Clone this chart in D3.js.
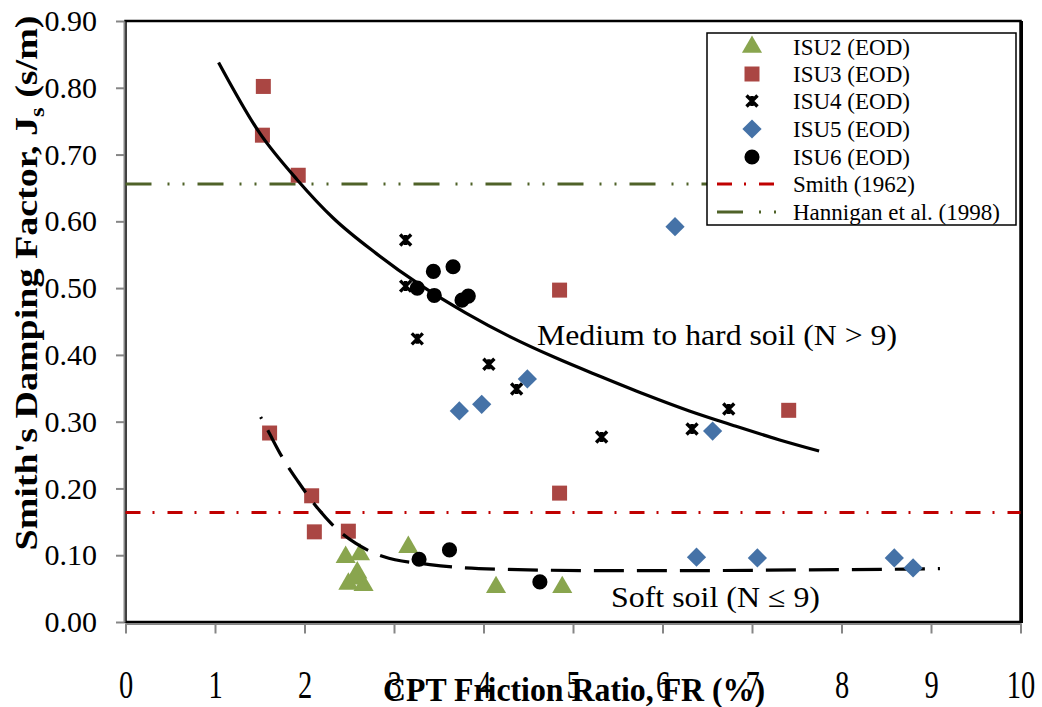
<!DOCTYPE html>
<html><head><meta charset="utf-8">
<script src="https://cdn.jsdelivr.net/npm/d3@7"></script>
<style>body{margin:0;background:#fff}svg{display:block}text{font-family:"Liberation Serif","Times New Roman",serif}</style>
</head><body><svg id="c" width="1042" height="707"></svg>
<script>
// ---- data ----
const xTicks = [0,1,2,3,4,5,6,7,8,9,10];
const yTicks = [0,0.1,0.2,0.3,0.4,0.5,0.6,0.7,0.8,0.9];

const isu2FR = [2.46, 2.62, 2.59, 2.49, 2.66, 2.56, 3.16, 4.14, 4.88];
const isu2J  = [0.097,0.101,0.074,0.057,0.055,0.065,0.112,0.052,0.052];
const isu3FR = [1.54, 1.53, 1.93, 1.61, 2.08, 2.11, 2.49, 4.85, 4.85, 7.41];
const isu3J  = [0.802,0.729,0.669,0.283,0.189,0.135,0.136,0.497,0.193,0.317];
const isu4FR = [3.13, 3.13, 3.26, 4.06, 4.37, 5.32, 6.33, 6.74];
const isu4J  = [0.572,0.503,0.424,0.386,0.349,0.277,0.289,0.319];
const isu5FR = [6.14, 3.73, 3.98, 4.49, 6.56, 6.38, 7.06, 8.59, 8.80];
const isu5J  = [0.592,0.316,0.326,0.364,0.286,0.097,0.096,0.096,0.081];
const isu6FR = [3.44, 3.66, 3.26, 3.45, 3.76, 3.83, 3.28, 3.62, 4.63];
const isu6J  = [0.525,0.532,0.500,0.489,0.482,0.488,0.094,0.108,0.060];

// trend curves
const hardFR = [1.04, 1.50, 1.92, 2.32, 2.80, 3.30, 3.80, 4.30, 4.80, 5.30, 5.80, 6.30, 6.80, 7.30, 7.75];
const hardJ  = [0.838,0.732,0.662,0.605,0.552,0.504,0.463,0.427,0.396,0.368,0.341,0.316,0.294,0.273,0.256];
const softFR = [1.51, 1.59, 1.75, 1.93, 2.12, 2.34, 2.57, 2.88, 3.40, 4.19, 5.30, 6.40, 7.50, 8.60, 9.10];
const softJ  = [0.307,0.287,0.247,0.210,0.175,0.142,0.118,0.098,0.086,0.079,0.077,0.077,0.078,0.079,0.080];

const refFR = [0, 10];
const smithJ = [0.164, 0.164];
const hanniganJ = [0.656, 0.656];

const legendLabels = ["ISU2 (EOD)","ISU3 (EOD)","ISU4 (EOD)","ISU5 (EOD)","ISU6 (EOD)","Smith (1962)","Hannigan et al. (1998)"];

// ---- drawing ----
const svg = d3.select("#c");
const x = d3.scaleLinear().domain([0,10]).range([125.5,1020.5]);
const y = d3.scaleLinear().domain([0,0.9]).range([622,21]);

const C = {green:"#89a54e", red:"#aa4643", blue:"#4572a7", smith:"#c00000", hann:"#4f6228"};

// plot frame
svg.append("rect").attr("x",x(0)).attr("y",y(0.9)).attr("width",x(10)-x(0)).attr("height",y(0)-y(0.9))
  .attr("fill","#fff").attr("stroke","#000").attr("stroke-width",2.5);
svg.append("line").attr("x1",x(10)+1).attr("x2",x(10)+1).attr("y1",y(0.9)).attr("y2",y(0)+1).attr("stroke","#000").attr("stroke-width",3);

// axes
const ax = svg.append("g").attr("transform",`translate(0,${y(0)+1.5})`)
  .call(d3.axisBottom(x).tickValues(xTicks).tickSize(10).tickSizeOuter(0).tickPadding(44).tickFormat(d3.format("d")));
const ay = svg.append("g").attr("transform",`translate(${x(0)-1.5},0)`)
  .call(d3.axisLeft(y).tickValues(yTicks).tickSize(8).tickSizeOuter(0).tickPadding(19).tickFormat(d3.format(".2f")));
[ax,ay].forEach(g=>{
  g.select(".domain").attr("stroke","#868686").attr("stroke-width",2);
  g.selectAll(".tick line").attr("stroke","#868686").attr("stroke-width",2);
  g.selectAll("text").attr("font-family","Liberation Serif").attr("font-size",30).attr("fill","#000");
});
ax.selectAll("text").attr("dy",null).attr("y",0).attr("transform","translate(0,74) scale(0.95,1.35)");

// axis titles
svg.append("text").attr("x",574).attr("y",701).attr("text-anchor","middle")
  .attr("font-weight","bold").attr("font-size",33).attr("textLength",382).attr("lengthAdjust","spacingAndGlyphs")
  .text("CPT Friction Ratio, FR (%)");
const yt = svg.append("text").attr("transform","translate(37,283) rotate(-90)").attr("text-anchor","middle")
  .attr("font-weight","bold").attr("font-size",31).attr("textLength",535).attr("lengthAdjust","spacingAndGlyphs");
yt.append("tspan").text("Smith's Damping Factor, J");
yt.append("tspan").attr("font-size",20).attr("dy",7).text("s");
yt.append("tspan").attr("dy",-7).text(" (s/m)");

// reference lines
const line = d3.line().x(d=>x(d[0])).y(d=>y(d[1]));
svg.append("path").datum(d3.zip(refFR,smithJ)).attr("d",line).attr("fill","none")
  .attr("stroke",C.smith).attr("stroke-width",3).attr("stroke-dasharray","15,12,2,13").attr("stroke-linecap","butt");
svg.append("path").datum(d3.zip(refFR,hanniganJ)).attr("d",line).attr("fill","none")
  .attr("stroke",C.hann).attr("stroke-width",3).attr("stroke-dasharray","26,16,2,13,2,13");

// markers
const sym = (type,size)=>d3.symbol().type(type).size(size)();
const xMark = "M-5.5,-5.5L5.5,5.5M-5.5,5.5L5.5,-5.5M0,-5L0,5";
function pts(fr,j){return d3.zip(fr,j);}
function drawTri(g,data){g.selectAll(null).data(data).join("path").attr("d",sym(d3.symbolTriangle,175))
  .attr("transform",d=>`translate(${x(d[0])},${y(d[1])})`).attr("fill",C.green);}
function drawSq(g,data){g.selectAll(null).data(data).join("path").attr("d",sym(d3.symbolSquare,225))
  .attr("transform",d=>`translate(${x(d[0])},${y(d[1])})`).attr("fill",C.red);}
function drawX(g,data){g.selectAll(null).data(data).join("path").attr("d",xMark)
  .attr("transform",d=>`translate(${x(d[0])},${y(d[1])})`).attr("stroke","#000").attr("stroke-width",3.4).attr("fill","none");}
function drawDia(g,data){g.selectAll(null).data(data).join("path").attr("d",sym(d3.symbolSquare,185))
  .attr("transform",d=>`translate(${x(d[0])},${y(d[1])}) rotate(45)`).attr("fill",C.blue);}
function drawCirc(g,data){g.selectAll(null).data(data).join("path").attr("d",sym(d3.symbolCircle,180))
  .attr("transform",d=>`translate(${x(d[0])},${y(d[1])})`).attr("fill","#000");}

drawTri(svg.append("g"),pts(isu2FR,isu2J));
drawSq(svg.append("g"),pts(isu3FR,isu3J));

// fit curves
const cl = d3.line().x(d=>x(d[0])).y(d=>y(d[1])).curve(d3.curveMonotoneX);
svg.append("path").datum(pts(hardFR,hardJ)).attr("d",cl).attr("fill","none").attr("stroke","#000").attr("stroke-width",3.2);
svg.append("path").datum(pts(softFR,softJ)).attr("d",cl).attr("fill","none").attr("stroke","#000").attr("stroke-width",3.2)
  .attr("stroke-dasharray","30,13").attr("stroke-dashoffset",28);

drawX(svg.append("g"),pts(isu4FR,isu4J));
drawDia(svg.append("g"),pts(isu5FR,isu5J));
drawCirc(svg.append("g"),pts(isu6FR,isu6J));

// annotations
svg.append("text").attr("x",537).attr("y",345).attr("font-size",30).attr("textLength",360).attr("lengthAdjust","spacingAndGlyphs")
  .text("Medium to hard soil (N > 9)");
svg.append("text").attr("x",611).attr("y",607).attr("font-size",30).attr("textLength",209).attr("lengthAdjust","spacingAndGlyphs")
  .text("Soft soil (N \u2264 9)");

// legend
const lg = svg.append("g");
lg.append("rect").attr("x",707).attr("y",33).attr("width",309).attr("height",192).attr("fill","#fff").attr("stroke","#000").attr("stroke-width",1.5);
const rowY = [47,74,101,129,157,184,212];
const lx = 752;
drawTri(lg.append("g"),[[x.invert(lx),y.invert(rowY[0])]]);
drawSq(lg.append("g"),[[x.invert(lx),y.invert(rowY[1])]]);
drawX(lg.append("g"),[[x.invert(lx),y.invert(rowY[2])]]);
drawDia(lg.append("g"),[[x.invert(lx),y.invert(rowY[3])]]);
drawCirc(lg.append("g"),[[x.invert(lx),y.invert(rowY[4])]]);
lg.append("line").attr("x1",717).attr("x2",774).attr("y1",rowY[5]).attr("y2",rowY[5]).attr("stroke",C.smith).attr("stroke-width",3).attr("stroke-dasharray","15,12,2,13");
lg.append("line").attr("x1",717).attr("x2",780).attr("y1",rowY[6]).attr("y2",rowY[6]).attr("stroke",C.hann).attr("stroke-width",3).attr("stroke-dasharray","26,16,2,13,2,13");
lg.selectAll("text.l").data(legendLabels).join("text").attr("class","l")
  .attr("x",793).attr("y",(d,i)=>rowY[i]+8).attr("font-size",23).text(d=>d);
</script></body></html>
